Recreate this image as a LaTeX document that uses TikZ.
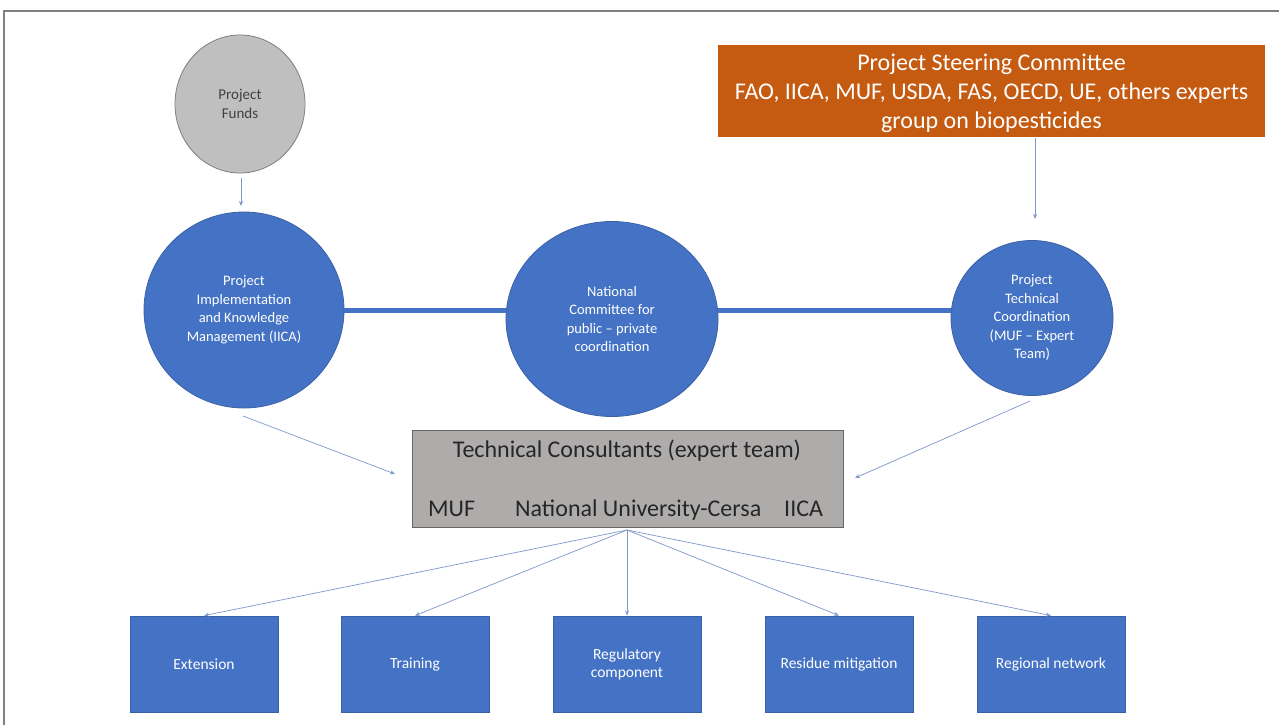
\documentclass[tikz,border=0pt]{standalone}
\usepackage{fontspec}
\setmainfont{Carlito}
\usetikzlibrary{shapes.geometric,arrows.meta}
\definecolor{bblue}{HTML}{4472C4}
\definecolor{borange}{HTML}{C55A11}
\definecolor{bgray}{HTML}{AEABAB}
\definecolor{cgray}{HTML}{BFBFBF}
\definecolor{arr}{HTML}{7E98C8}
\tikzset{
  circ/.style={ellipse, fill=bblue, draw=bblue!85!black, line width=0.8pt, inner sep=0pt, text=white, align=center, font=\fontsize{14.5}{18.5}\selectfont},
  leaf/.style={rectangle, fill=bblue, draw=bblue!85!black, line width=0.8pt, minimum width=148pt, minimum height=96pt, inner sep=0pt, text=white, align=center, font=\fontsize{15.5}{18}\selectfont},
  conn/.style={draw=arr, line width=0.7pt, -{Stealth[length=5pt,width=4pt]}},
  bar/.style={draw=bblue, line width=5pt},
  big/.style={font=\fontsize{24}{29}\selectfont, text=black!85},
}
\begin{document}
\begin{tikzpicture}[x=1pt,y=-1pt]
\useasboundingbox (0,0) rectangle (1279,725);
\fill[white] (0,0) rectangle (1279,725);
% frame
\draw[gray, line width=2pt] (4,725) -- (4,11) -- (1279,11);

% top nodes
\node[ellipse, fill=cgray, draw=gray, line width=0.8pt, minimum width=130pt, minimum height=138pt, inner sep=0pt, align=center, text=black!75, font=\fontsize{15}{19}\selectfont] (funds) at (240,104) {Project\\Funds};
\node[rectangle, fill=borange, minimum width=547pt, minimum height=92pt, inner sep=0pt] (psc) at (991.5,91) {};
\node[align=center, text=white, font=\fontsize{24}{29}\selectfont] (psct) at (991.5,93) {Project Steering Committee\\FAO, IICA, MUF, USDA, FAS, OECD, UE, others experts\\group on biopesticides};

% circles
\node[circ, minimum width=200pt, minimum height=196pt] (pim) at (244,310) {Project\\Implementation\\and Knowledge\\Management (IICA)};
\node[circ, minimum width=212pt, minimum height=195pt] (ncc) at (612,319) {National\\Committee for\\public -- private\\coordination};
\node[circ, minimum width=162pt, minimum height=155pt] (ptc) at (1032,318) {Project\\Technical\\Coordination\\(MUF -- Expert\\Team)};

\draw[bar] (pim.east |- 0,310) -- (ncc.west |- 0,310);
\draw[bar] (ncc.east |- 0,310) -- (ptc.west |- 0,310);

% technical consultants
\node[rectangle, fill=bgray, draw=gray!80!black, line width=1pt, minimum width=431pt, minimum height=97pt, inner sep=0pt] (tc) at (627.5,478.5) {};
\node[big] (tct) at (627,451) {Technical Consultants (expert team)};
\node[big, anchor=base west, inner sep=0pt] (tm1) at (428,516) {MUF};
\node[big, anchor=base west, inner sep=0pt] (tm2) at (515,516) {National University-Cersa};
\node[big, anchor=base west, inner sep=0pt] (tm3) at (784,516) {IICA};

% leaves
\node[leaf] (ext) at (204,664) {Extension};
\node[leaf] (trn) at (415,664) {Training};
\node[leaf] (reg) at (627,664) {Regulatory\\component};
\node[leaf] (res) at (839,664) {Residue mitigation};
\node[leaf] (rnw) at (1051,664) {Regional network};

% connectors
\coordinate (fs) at (241,178);
\coordinate (fe) at (241,206);
\draw[conn] (fs) -- (fe);
\coordinate (ps) at (1035,138);
\coordinate (pe) at (1035,219);
\draw[conn] (ps) -- (pe);
\coordinate (ls) at (243,416);
\coordinate (le) at (395,474);
\draw[conn] (ls) -- (le);
\coordinate (rs) at (1030,401);
\coordinate (re) at (855,478);
\draw[conn] (rs) -- (re);
\coordinate (tb) at (627,530);
\foreach \n in {ext,trn,reg,res,rnw}{
  \draw[conn] (tb) -- (\n.north);
}
\end{tikzpicture}
\end{document}
